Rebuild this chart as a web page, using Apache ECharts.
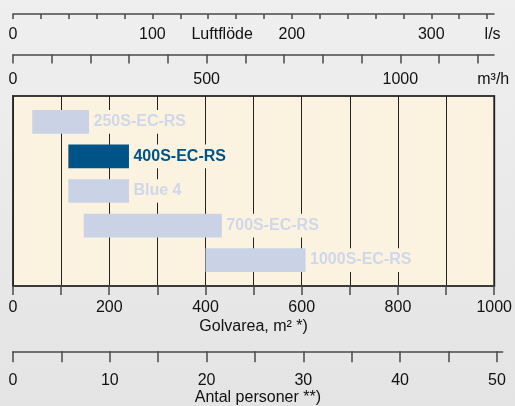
<!DOCTYPE html>
<html>
<head>
<meta charset="utf-8">
<script src="https://cdn.jsdelivr.net/npm/echarts@6/dist/echarts.min.js"></script>
<style>
html,body{margin:0;padding:0;background:#eaeaea;}
#chart{width:515px;height:406px;}
</style>
</head>
<body>
<div id="chart"></div>
<script>
// ---- data ----
var models = ['250S-EC-RS', '400S-EC-RS', 'Blue 4', '700S-EC-RS', '1000S-EC-RS'];
var areaFrom = [40, 115, 115, 147, 400];   // Golvarea m², start of range
var areaTo   = [158, 241, 241, 434, 608];  // Golvarea m², end of range
var highlighted = '400S-EC-RS';

var lsTicks = [0,20,40,60,80,100,120,140,160,180,200,220,240,260,280,300,320,340];
var lsLabels = [0, 100, 200, 300];
var lsTitle = 'Luftflöde', lsTitleAt = 150;
var lsUnit = 'l/s', lsUnitAt = 344;

var m3hTicks = [0,100,200,300,400,500,600,700,800,900,1000,1100,1200];
var m3hLabels = [0, 500, 1000];
var m3hUnit = 'm³/h', m3hUnitAt = 1240;

var areaLabels = [0, 200, 400, 600, 800, 1000];
var areaTitle = 'Golvarea, m² *)';

var personTicks = [0,5,10,15,20,25,30,35,40,45,50];
var personLabels = [0, 10, 20, 30, 40, 50];
var personTitle = 'Antal personer **)';

// ---- chart ----
var FONT = "'Liberation Sans', Arial, sans-serif";
var FS = 16;
var lineStyle = {color: '#4a4a4a', width: 1.5};

function labelMap(map) {
  return function (v) {
    for (var k in map) { if (Math.abs(+k - v) < 1e-6) return map[k]; }
    return String(v);
  };
}
function plain(v) { return String(v); }
var lsMap = {}; lsMap[lsTitleAt] = lsTitle; lsMap[lsUnitAt] = lsUnit;
var m3hMap = {}; m3hMap[m3hUnitAt] = m3hUnit;

var chart = echarts.init(document.getElementById('chart'), null, {renderer: 'canvas'});

function renderItem(params, api) {
  var i = params.dataIndex;
  var s = api.coord([api.value(0), api.value(2)]);
  var e = api.coord([api.value(1), api.value(2)]);
  var h = api.size([0, 1])[1] * 0.686;
  var hi = models[i] === highlighted;
  return {
    type: 'group',
    children: [
      {type: 'rect', shape: {x: s[0], y: s[1] - h / 2, width: e[0] - s[0], height: h},
       style: {fill: hi ? '#005386' : '#c9d3e5'}},
      {type: 'text', x: e[0] + 1.5, y: s[1],
       style: {text: models[i], fill: hi ? '#005386' : '#cfd8ea',
                font: 'bold 16px ' + FONT, align: 'left', verticalAlign: 'middle',
                lineHeight: h, backgroundColor: '#fbf2e0', padding: [0, 3, 0, 3]}}
    ]
  };
}

var seriesData = models.map(function (m, i) { return [areaFrom[i], areaTo[i], i]; });

var txt = {fontSize: FS, color: '#111', fontFamily: FONT};

var option = {
  animation: false,
  backgroundColor: {type: 'linear', x: 0, y: 0, x2: 0, y2: 1,
    colorStops: [{offset: 0, color: '#efefef'}, {offset: 1, color: '#e4e4e4'}]},
  grid: [
    {left: 13, right: 21, top: 13, height: 1},       // l/s
    {left: 13, right: 21, top: 53.5, height: 1},     // m3/h
    {left: 13, right: 18, top: 96, height: 190, show: true,
     backgroundColor: '#fbf2e0', borderColor: '#3a3a3a', borderWidth: 2}, // plot
    {left: 13, right: 12.3, top: 351, height: 1}     // persons
  ],
  xAxis: [
    {gridIndex: 0, type: 'value', min: 0, max: 345, position: 'bottom',
     axisLine: {show: true, onZero: false, lineStyle: lineStyle},
     axisTick: {show: true, length: 5, lineStyle: lineStyle, customValues: lsTicks},
     axisLabel: Object.assign({customValues: lsLabels.concat([lsTitleAt, lsUnitAt]),
                 formatter: labelMap(lsMap), margin: 13}, txt),
     splitLine: {show: false}},
    {gridIndex: 1, type: 'value', min: 0, max: 1242, position: 'bottom',
     axisLine: {show: true, onZero: false, lineStyle: lineStyle},
     axisTick: {show: true, length: 9, lineStyle: lineStyle, customValues: m3hTicks},
     axisLabel: Object.assign({customValues: m3hLabels.concat([m3hUnitAt]),
                 formatter: labelMap(m3hMap), margin: 17.5}, txt),
     splitLine: {show: false}},
    {gridIndex: 2, type: 'value', min: 0, max: 1000, interval: 100, position: 'bottom',
     axisLine: {show: true, onZero: false, lineStyle: {color: '#3a3a3a', width: 2}},
     axisTick: {show: true, length: 9, lineStyle: lineStyle},
     axisLabel: Object.assign({customValues: areaLabels, formatter: plain, margin: 14}, txt),
     splitLine: {show: true, lineStyle: {color: '#222', width: 1}},
     name: areaTitle, nameLocation: 'middle', nameGap: 33, nameTextStyle: txt},
    {gridIndex: 3, type: 'value', min: 0, max: 50.6, position: 'bottom',
     axisLine: {show: true, onZero: false, lineStyle: lineStyle},
     axisTick: {show: true, length: 11, lineStyle: lineStyle, customValues: personTicks},
     axisLabel: Object.assign({customValues: personLabels, formatter: plain, margin: 21.5}, txt),
     splitLine: {show: false},
     name: personTitle, nameLocation: 'middle', nameGap: 38, nameTextStyle: txt}
  ],
  yAxis: [
    {gridIndex: 0, type: 'value', show: false},
    {gridIndex: 1, type: 'value', show: false},
    {gridIndex: 2, type: 'value', min: -0.75, max: 4.75, inverse: true, show: false},
    {gridIndex: 3, type: 'value', show: false}
  ],
  series: [{
    type: 'custom', xAxisIndex: 2, yAxisIndex: 2,
    renderItem: renderItem, data: seriesData,
    encode: {x: [0, 1], y: 2}
  }]
};
chart.setOption(option);
</script>
</body>
</html>
